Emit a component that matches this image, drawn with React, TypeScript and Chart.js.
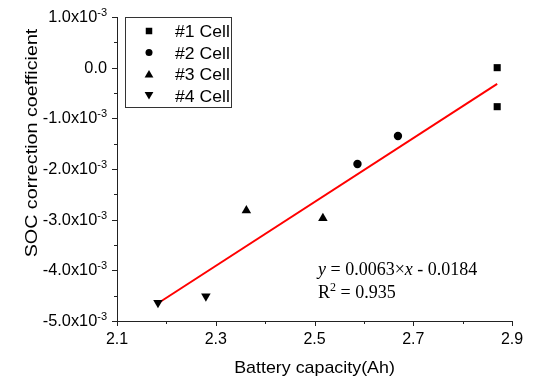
import React, { useEffect, useRef } from 'react';
import { Chart, registerables } from 'chart.js';

Chart.register(...registerables);

// ---- data ----
const seriesNames = ['#1 Cell', '#2 Cell', '#3 Cell', '#4 Cell'];
const cell1X = [2.87, 2.87];
const cell1Y = [0.0, -0.77e-3];
const cell2X = [2.587, 2.669];
const cell2Y = [-1.9e-3, -1.35e-3];
const cell3X = [2.362, 2.517];
const cell3Y = [-2.82e-3, -2.97e-3];
const cell4X = [2.183, 2.28];
const cell4Y = [-4.64e-3, -4.51e-3];
const fitX = [2.183, 2.87];
const fitY = [-4.65e-3, -0.32e-3];

const xMin = 2.1;
const xMax = 2.9;
const yMin = -5e-3;
const yMax = 1e-3;
const xTicks = [2.1, 2.3, 2.5, 2.7, 2.9];
const xTickLabels = ['2.1', '2.3', '2.5', '2.7', '2.9'];
const xMinorTicks = [2.2, 2.4, 2.6, 2.8];
const yTicks = [1e-3, 0, -1e-3, -2e-3, -3e-3, -4e-3, -5e-3];
const yTickBase = ['1.0x10', '0.0', '-1.0x10', '-2.0x10', '-3.0x10', '-4.0x10', '-5.0x10'];
const yTickExp = ['-3', '', '-3', '-3', '-3', '-3', '-3'];
const yMinorTicks = [0.5e-3, -0.5e-3, -1.5e-3, -2.5e-3, -3.5e-3, -4.5e-3];
const xTitle = 'Battery capacity(Ah)';
const yTitle = 'SOC correction coefficient';
const eqLine1 = ['y', ' = 0.0063×', 'x', ' - 0.0184'];
const eqLine2 = ['R', '2', ' = 0.935'];

const SANS = "'Liberation Sans', Arial, sans-serif";
const SERIF = "'Liberation Serif', 'Times New Roman', serif";

function txt(
  ctx: CanvasRenderingContext2D,
  s: string,
  x: number,
  y: number,
  font: string,
  align: 'left' | 'right' | 'center',
  sx = 1,
) {
  ctx.save();
  ctx.font = font;
  ctx.fillStyle = '#000';
  ctx.textBaseline = 'alphabetic';
  ctx.textAlign = 'left';
  const w = ctx.measureText(s).width * sx;
  const x0 = align === 'left' ? x : align === 'right' ? x - w : x - w / 2;
  ctx.translate(x0, y);
  ctx.scale(sx, 1);
  ctx.fillText(s, 0, 0);
  ctx.restore();
  return w;
}

function measure(ctx: CanvasRenderingContext2D, s: string, font: string, sx = 1) {
  ctx.save();
  ctx.font = font;
  const w = ctx.measureText(s).width * sx;
  ctx.restore();
  return w;
}

function marker(ctx: CanvasRenderingContext2D, kind: number, x: number, y: number, s: number) {
  ctx.save();
  ctx.fillStyle = '#000';
  ctx.beginPath();
  if (kind === 0) {
    ctx.rect(x - s / 2, y - s / 2, s, s);
  } else if (kind === 1) {
    ctx.arc(x, y, s / 2, 0, Math.PI * 2);
  } else if (kind === 2) {
    ctx.moveTo(x, y - s * 0.5);
    ctx.lineTo(x + s * 0.55, y + s * 0.45);
    ctx.lineTo(x - s * 0.55, y + s * 0.45);
  } else {
    ctx.moveTo(x, y + s * 0.5);
    ctx.lineTo(x + s * 0.55, y - s * 0.45);
    ctx.lineTo(x - s * 0.55, y - s * 0.45);
  }
  ctx.closePath();
  ctx.fill();
  ctx.restore();
}

const decorPlugin = {
  id: 'decor',
  afterDraw(chart: any) {
    const ctx: CanvasRenderingContext2D = chart.ctx;
    const xs = chart.scales.x;
    const ys = chart.scales.y;
    const { left, right, top, bottom } = chart.chartArea;

    ctx.save();
    ctx.strokeStyle = '#222';
    ctx.lineWidth = 1;
    // axes lines
    ctx.beginPath();
    ctx.moveTo(left + 0.5, top);
    ctx.lineTo(left + 0.5, bottom + 0.5);
    ctx.lineTo(right, bottom + 0.5);
    ctx.stroke();
    // ticks
    ctx.beginPath();
    xTicks.forEach((v) => {
      const px = Math.round(xs.getPixelForValue(v)) + 0.5;
      ctx.moveTo(px, bottom);
      ctx.lineTo(px, bottom + 5);
    });
    xMinorTicks.forEach((v) => {
      const px = Math.round(xs.getPixelForValue(v)) + 0.5;
      ctx.moveTo(px, bottom);
      ctx.lineTo(px, bottom + 3);
    });
    yTicks.forEach((v) => {
      const py = Math.round(ys.getPixelForValue(v)) + 0.5;
      ctx.moveTo(left + 1, py);
      ctx.lineTo(left - 5, py);
    });
    yMinorTicks.forEach((v) => {
      const py = Math.round(ys.getPixelForValue(v)) + 0.5;
      ctx.moveTo(left + 1, py);
      ctx.lineTo(left - 3, py);
    });
    ctx.stroke();
    ctx.restore();

    // x tick labels
    const tickFont = `16px ${SANS}`;
    xTicks.forEach((v, i) => {
      txt(ctx, xTickLabels[i], xs.getPixelForValue(v), bottom + 23, tickFont, 'center', 1.0);
    });

    // y tick labels with superscript exponents
    const expFont = `11px ${SANS}`;
    const rightEdge = left - 10;
    yTicks.forEach((v, i) => {
      const py = ys.getPixelForValue(v);
      const wb = measure(ctx, yTickBase[i], tickFont, 1.02);
      const we = yTickExp[i] ? measure(ctx, yTickExp[i], expFont, 1.0) : 0;
      const start = rightEdge - wb - we;
      txt(ctx, yTickBase[i], start, py + 5, tickFont, 'left', 1.02);
      if (yTickExp[i]) txt(ctx, yTickExp[i], start + wb, py - 1, expFont, 'left', 1.0);
    });

    // axis titles
    txt(ctx, xTitle, (left + right) / 2, 372.5, `17px ${SANS}`, 'center', 1.05);
    ctx.save();
    ctx.translate(37, 143);
    ctx.rotate(-Math.PI / 2);
    txt(ctx, yTitle, 0, 0, `17px ${SANS}`, 'center', 1.16);
    ctx.restore();

    // legend
    ctx.save();
    ctx.strokeStyle = '#333';
    ctx.lineWidth = 1;
    ctx.strokeRect(125.5, 17.5, 106, 90);
    ctx.restore();
    const rows = [31, 52.5, 74, 95.5];
    const sizes = [6.5, 7, 8, 8];
    seriesNames.forEach((name, i) => {
      marker(ctx, i, 149, rows[i], sizes[i]);
      txt(ctx, name, 175, rows[i] + 6, `16px ${SANS}`, 'left', 1.1);
    });

    // equation
    const f = `18px ${SERIF}`;
    const fi = `italic 18px ${SERIF}`;
    let x = 318;
    x += txt(ctx, eqLine1[0], x, 275, fi, 'left');
    x += txt(ctx, eqLine1[1], x, 275, f, 'left');
    x += txt(ctx, eqLine1[2], x, 275, fi, 'left');
    txt(ctx, eqLine1[3], x, 275, f, 'left');
    x = 318;
    x += txt(ctx, eqLine2[0], x, 298, f, 'left');
    x += txt(ctx, eqLine2[1], x, 291, `12px ${SERIF}`, 'left');
    txt(ctx, eqLine2[2], x, 298, f, 'left');
  },
};

const pts = (xs: number[], ys: number[]) => xs.map((x, i) => ({ x, y: ys[i] }));

export default function App() {
  const ref = useRef<HTMLCanvasElement>(null);
  useEffect(() => {
    if (!ref.current) return;
    const common = { backgroundColor: '#000', borderColor: '#000', borderWidth: 0, showLine: false };
    const chart = new Chart(ref.current, {
      type: 'scatter',
      data: {
        datasets: [
          { label: seriesNames[0], data: pts(cell1X, cell1Y), pointStyle: 'rect', pointRadius: 5, ...common },
          { label: seriesNames[1], data: pts(cell2X, cell2Y), pointStyle: 'circle', pointRadius: 4.2, ...common },
          { label: seriesNames[2], data: pts(cell3X, cell3Y), pointStyle: 'triangle', pointRadius: 5.5, ...common },
          {
            label: seriesNames[3],
            data: pts(cell4X, cell4Y),
            pointStyle: 'triangle',
            rotation: 180,
            pointRadius: 5.5,
            ...common,
          },
          {
            label: 'Linear fit',
            type: 'line',
            data: pts(fitX, fitY),
            borderColor: '#ff0000',
            backgroundColor: '#ff0000',
            borderWidth: 2,
            pointRadius: 0,
            showLine: true,
            fill: false,
          },
        ] as any,
      },
      options: {
        animation: false,
        responsive: false,
        maintainAspectRatio: false,
        layout: { padding: { top: 17, right: 22, left: 0, bottom: 0 } },
        plugins: { legend: { display: false }, tooltip: { enabled: false } },
        scales: {
          x: {
            type: 'linear',
            min: xMin,
            max: xMax,
            ticks: { display: false },
            grid: { display: false, drawTicks: false },
            border: { display: false },
            afterFit: (s: any) => {
              s.height = 59;
            },
          },
          y: {
            type: 'linear',
            min: yMin,
            max: yMax,
            ticks: { display: false },
            grid: { display: false, drawTicks: false },
            border: { display: false },
            afterFit: (s: any) => {
              s.width = 117;
            },
          },
        },
      } as any,
      plugins: [decorPlugin],
    });
    return () => chart.destroy();
  }, []);
  return (
    <div style={{ position: 'fixed', left: 0, top: 0, width: 534, height: 380, background: '#fff' }}>
      <canvas ref={ref} width={534} height={380} style={{ display: 'block', width: 534, height: 380 }} />
    </div>
  );
}
